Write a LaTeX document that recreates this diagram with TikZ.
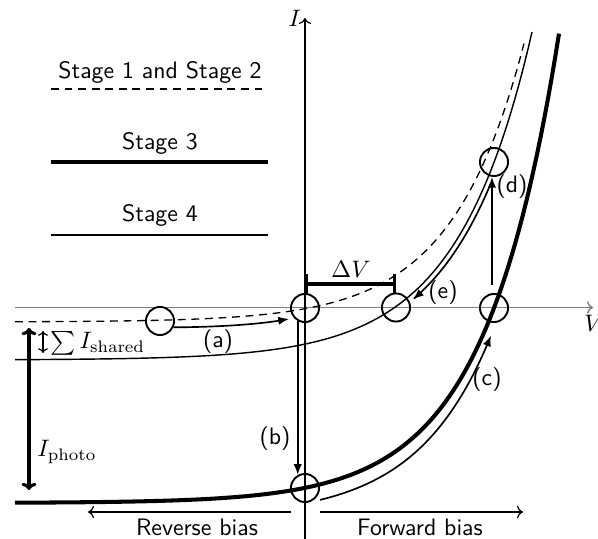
\documentclass[tikz,border=0pt]{standalone}
\usetikzlibrary{arrows.meta}
\begin{document}
\begin{tikzpicture}[x=0.42pt,y=-0.42pt,
  circ/.style={circle,draw,line width=0.8pt,minimum size=11.8pt,inner sep=0pt},
  thincurve/.style={line width=0.6pt},
  thickcurve/.style={line width=1.7pt},
  dashcurve/.style={line width=0.55pt,dash pattern=on 3.3pt off 2.4pt},
  arr/.style={line width=0.7pt,-{Latex[length=4.5pt,width=3.5pt]}},
  thinarr/.style={line width=0.5pt,-{To[length=2.5pt]}},
  lbl/.style={font=\sffamily},
]
\useasboundingbox (0,0) rectangle (598,539);
% axes
\coordinate (xs) at (15,307.5);
\coordinate (xe) at (593,307.5);
\coordinate (ys) at (305,545);
\coordinate (ye) at (305,18);
\draw[gray,line width=0.6pt,-{To[length=2.5pt]}] (xs) -- (xe);
\node[anchor=north west,inner sep=0pt] (vlab) at (584,315) {$V$};
\draw[line width=0.5pt,-{To[length=2.5pt]}] (ys) -- (ye);
\node[anchor=east,inner sep=1.5pt] (ilab) at (ye) {$I$};
% curves
\draw[dashcurve] plot[domain=15:524,samples=150] (\x,{322-13.3*exp((\x-305)/72)});
\draw[thincurve] plot[domain=15:532,samples=150] (\x,{360-52.8*exp((\x-395)/75)});
\draw[thickcurve] plot[domain=15:559,samples=150] (\x,{503-195*exp((\x-494)/74)});
% circles
\node[circ] (c1) at (160,321) {};
\node[circ] (c0) at (305,308) {};
\node[circ] (ce) at (396,307.5) {};
\node[circ] (cv) at (494,308) {};
\node[circ] (cd) at (494,162) {};
\node[circ] (cb) at (305,488) {};
% arrows
\coordinate (aend) at (289,319);
\draw[arr] (c1.-25) .. controls (230,327) and (265,323) .. (aend);
\node[lbl] (la) at (218,342) {(a)};
\draw[arr] (c0.-119) -- (cb.119);
\node[lbl] (lb) at (275,439) {(b)};
\draw[arr] plot[domain=320:491,samples=80] (\x,{518-18.1*exp((\x-320)/74)});
\node[lbl] (lc) at (487,380) {(c)};
\coordinate (dstart) at (492,285);
\draw[arr] (dstart) -- (dstart |- cd.south);
\node[lbl] (ld) at (512,187) {(d)};
\draw[arr] plot[domain=491:413,samples=80] (\x,{363-52.8*exp((\x-399)/75)});
\node[lbl] (le) at (443,293) {(e)};
% Delta V
\draw[line width=1.3pt,{Bar[width=8.4pt]}-{Bar[width=8.4pt]}] (c0.north |- 0,284) -- (ce.north |- 0,284);
\node (dv) at (351,269) {$\Delta V$};
% I_photo and I_shared
\draw[line width=1.3pt,{To[length=3pt]}-{To[length=3pt]}] (29,328) -- (29,490);
\node[anchor=west,inner sep=0pt] (iph) at (37,452) {$I_{\mathrm{photo}}$};
\draw[line width=0.5pt,{To[length=2pt]}-{To[length=2pt]}] (43,331) -- (43,353);
\node[anchor=west,inner sep=0pt] (ish) at (50,343) {$\sum I_{\mathrm{shared}}$};
% legend
\node[lbl] (s12) at (160,72) {Stage 1 and Stage 2};
\draw[dashcurve] (51,89) -- (268,89);
\node[lbl] (s3) at (160,143) {Stage 3};
\draw[thickcurve] (51,162) -- (268,162);
\node[lbl] (s4) at (160,215) {Stage 4};
\draw[thincurve] (51,235) -- (268,235);
% bias
\draw[thinarr] (291,512) -- (88,512);
\node[lbl] (rb) at (197,527) {Reverse bias};
\draw[thinarr] (320,512) -- (523,512);
\node[lbl] (fb) at (420,527) {Forward bias};
\end{tikzpicture}
\end{document}
